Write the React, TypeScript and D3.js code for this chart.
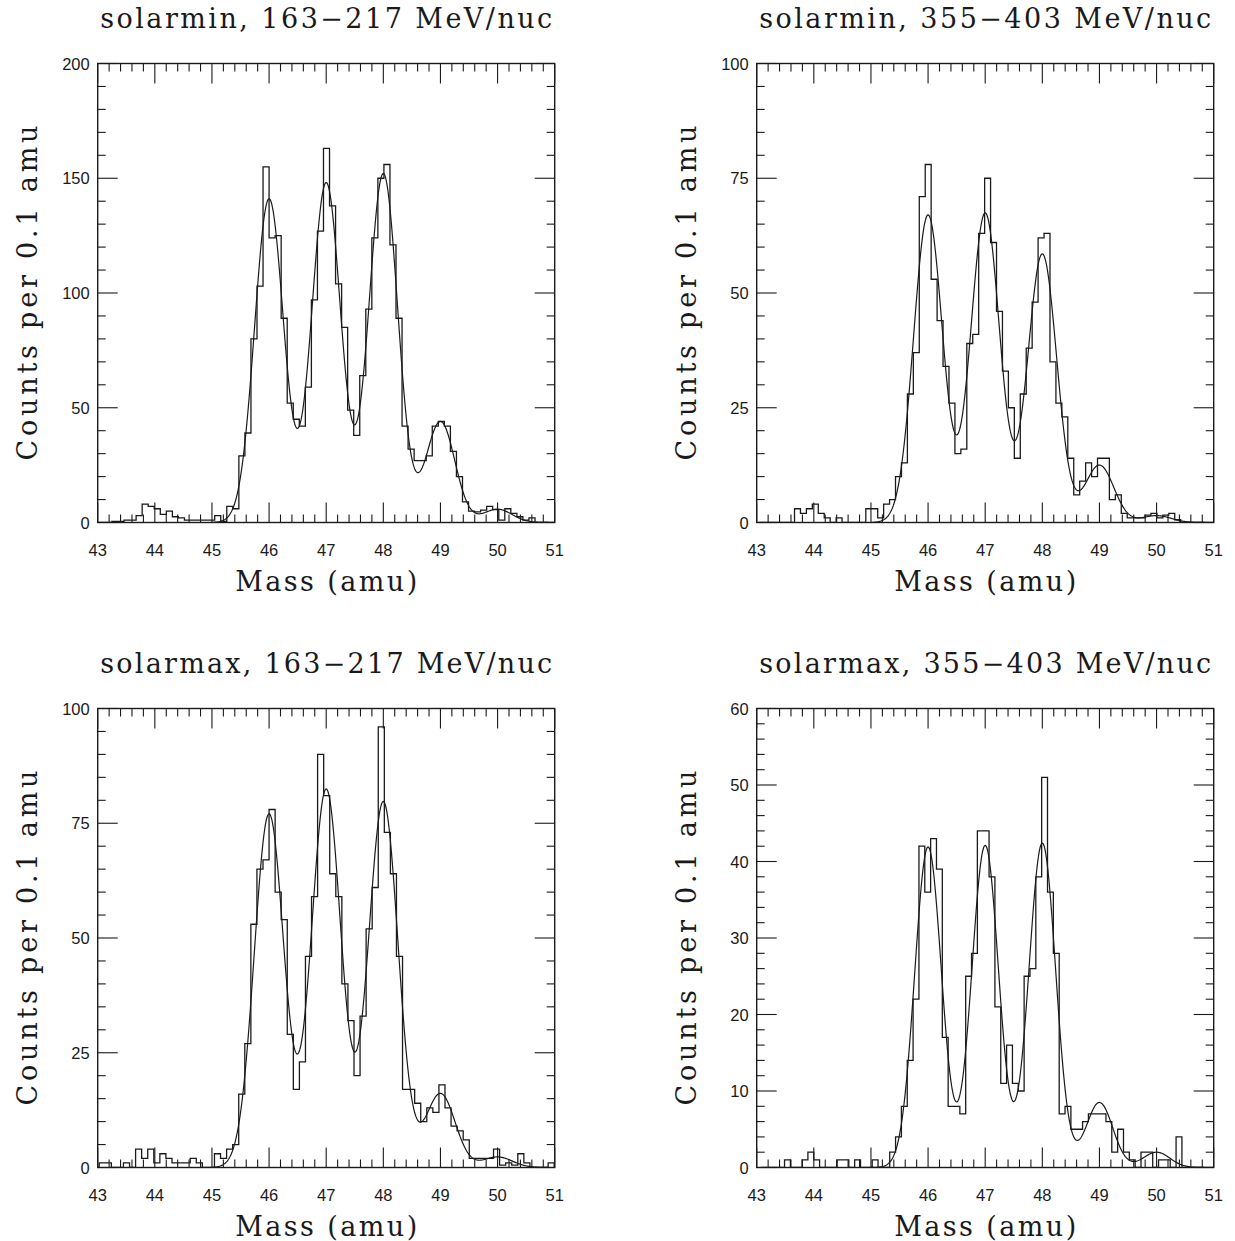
import React from "react";
import * as d3 from "d3";

// ---------- data ----------
const massTicks = [43, 44, 45, 46, 47, 48, 49, 50, 51];
const peakCenters = [46, 47, 48, 49, 50];

const titleTL = "solarmin, 163\u2212217 MeV/nuc";
const titleTR = "solarmin, 355\u2212403 MeV/nuc";
const titleBL = "solarmax, 163\u2212217 MeV/nuc";
const titleBR = "solarmax, 355\u2212403 MeV/nuc";
const xTitle = "Mass (amu)";
const yTitle = "Counts per 0.1 amu";

// solarmin 163-217
const binStartTL = 42.932;
const binWidthTL = 0.1058;
const countsTL = [
  0, 0, 0, 0.5, 0.5, 1, 1, 3, 8, 7,
  6, 3.5, 5, 2.5, 2, 1, 1, 1, 1, 1,
  3, 0.5, 7, 6, 29, 39, 80, 103, 155, 124,
  125, 89, 52, 45, 42, 59, 97, 127, 163, 138,
  104, 85, 49, 38, 64, 93, 124, 150, 156, 121,
  89, 42, 32, 27, 27, 29, 42, 44, 42, 31,
  20, 9, 5, 4.6, 5.4, 7, 5.6, 1, 6, 4,
  2.5, 1, 2, 0, 0, 0, 0,
];
const fitAmpsTL = [141, 148, 152, 44, 5.8];
const fitSigmaTL = 0.253;
const yTicksTL = [0, 50, 100, 150, 200];
const yMinorTL = 10;

// solarmin 355-403
const binStartTR = 43.038;
const binWidthTR = 0.104;
const countsTR = [
  0, 0, 0, 0, 0, 0, 3, 2, 3, 4,
  2, 1, 0, 1, 0, 0, 0, 0, 3, 3,
  1, 4, 5, 10, 13, 28, 37, 71, 78, 53,
  44, 34, 26, 15, 16, 39, 41, 63, 75, 61,
  46, 33, 25, 14, 28, 38, 48, 62, 63, 35,
  26, 23, 14, 6, 9, 13, 10, 14, 14, 5,
  6, 2, 1, 1, 1, 1.6, 2, 1, 1.6, 2,
  0.6, 0, 0, 0, 0, 0, 0,
];
const fitAmpsTR = [67, 67.4, 58.5, 12.5, 1.5];
const fitSigmaTR = 0.253;
const yTicksTR = [0, 25, 50, 75, 100];
const yMinorTR = 5;

// solarmax 163-217
const binStartBL = 42.92;
const binWidthBL = 0.1062;
const countsBL = [
  0, 1, 1, 0, 0, 1, 0, 4, 2, 4,
  1, 3, 2, 1, 1, 1, 2, 1, 0, 0,
  3, 2, 4, 5, 16, 27, 53, 65, 67, 78,
  60, 54, 29, 17, 23, 46, 59, 90, 81, 64,
  59, 40, 32, 20, 33, 52, 61, 96, 73, 64,
  46, 17, 17, 14, 10, 13, 12, 18, 13, 9,
  8, 6, 2, 2, 2, 2, 4, 0.5, 1, 0.5,
  3, 1, 0, 0, 0, 1, 0,
];
const fitAmpsBL = [77, 82.4, 79.7, 16.1, 2.3];
const fitSigmaBL = 0.259;
const yTicksBL = [0, 25, 50, 75, 100];
const yMinorBL = 5;

// solarmax 355-403
const binStartBR = 43.078;
const binWidthBR = 0.1023;
const countsBR = [
  0, 0, 0, 0, 1, 0, 0, 1, 2, 1,
  0, 0, 0, 1, 1, 0, 1, 0, 0, 1,
  0, 0, 2, 4, 8, 14, 22, 42, 36, 43,
  39, 17, 8, 8, 7, 25, 28, 44, 44, 38,
  21, 11, 16, 11, 10, 25, 26, 38, 51, 36,
  28, 7, 8, 5, 5, 6, 7, 7, 7, 6,
  2, 5, 2, 1, 0, 2, 2, 0, 1, 1,
  0, 4, 0, 0, 0, 0, 0, 0,
];
const fitAmpsBR = [41.9, 42.1, 42.4, 8.5, 2.0];
const fitSigmaBR = 0.234;
const yTicksBR = [0, 10, 20, 30, 40, 50, 60];
const yMinorBR = 2;

// ---------- layout ----------
const PW = 457;
const PH = 459;
const INK = "#1a1a1a";
const SERIF = "'DejaVu Serif', 'Liberation Serif', serif";
const SANS = "'Liberation Sans', Arial, sans-serif";

type PanelProps = {
  id: string;
  x0: number;
  y0: number;
  title: string;
  counts: number[];
  binStart: number;
  binWidth: number;
  amps: number[];
  sigma: number;
  yTicks: number[];
  yMinorStep: number;
};

function Panel(p: PanelProps) {
  const { id, x0, y0, title, counts, binStart, binWidth, amps, sigma, yTicks, yMinorStep } = p;
  const yMax = yTicks[yTicks.length - 1];
  const xs = d3.scaleLinear().domain([43, 51]).range([x0, x0 + PW]);
  const ys = d3.scaleLinear().domain([0, yMax]).range([y0 + PH, y0]);

  const pts: [number, number][] = counts.map((c, i) => [binStart + i * binWidth, c]);
  pts.push([binStart + counts.length * binWidth, counts[counts.length - 1]]);
  const histPath =
    d3
      .line<[number, number]>()
      .x((d) => xs(d[0]))
      .y((d) => ys(d[1]))
      .curve(d3.curveStepAfter)(pts) || "";

  const model = (m: number) =>
    peakCenters.reduce(
      (s, c, k) => s + amps[k] * Math.exp(-((m - c) * (m - c)) / (2 * sigma * sigma)),
      0
    );
  const fitX = d3.range(45, 51.0001, 0.01);
  const fitPath =
    d3
      .line<number>()
      .x((m) => xs(m))
      .y((m) => ys(model(m)))(fitX) || "";

  const xMinor = d3.range(43, 51.0001, 0.2).filter((v) => Math.abs(v - Math.round(v)) > 1e-6);
  const yMajorStep = yTicks[1] - yTicks[0];
  const yMinor = d3
    .range(0, yMax + 1e-6, yMinorStep)
    .filter((v) => Math.abs(v / yMajorStep - Math.round(v / yMajorStep)) > 1e-6);

  const MAJ = 20;
  const MIN = 8;
  const bottom = y0 + PH;
  const right = x0 + PW;

  return (
    <g>
      <defs>
        <clipPath id={`clip-${id}`}>
          <rect x={x0} y={y0} width={PW} height={PH} />
        </clipPath>
      </defs>
      {/* ticks */}
      <g stroke={INK} strokeWidth={1.1}>
        {massTicks.map((m) => (
          <g key={`xm${m}`}>
            <line x1={xs(m)} x2={xs(m)} y1={bottom} y2={bottom - MAJ} />
            <line x1={xs(m)} x2={xs(m)} y1={y0} y2={y0 + MAJ} />
          </g>
        ))}
        {xMinor.map((m, i) => (
          <g key={`xn${i}`}>
            <line x1={xs(m)} x2={xs(m)} y1={bottom} y2={bottom - MIN} />
            <line x1={xs(m)} x2={xs(m)} y1={y0} y2={y0 + MIN} />
          </g>
        ))}
        {yTicks.map((v) => (
          <g key={`ym${v}`}>
            <line x1={x0} x2={x0 + MAJ} y1={ys(v)} y2={ys(v)} />
            <line x1={right} x2={right - MAJ} y1={ys(v)} y2={ys(v)} />
          </g>
        ))}
        {yMinor.map((v, i) => (
          <g key={`yn${i}`}>
            <line x1={x0} x2={x0 + MIN} y1={ys(v)} y2={ys(v)} />
            <line x1={right} x2={right - MIN} y1={ys(v)} y2={ys(v)} />
          </g>
        ))}
      </g>
      {/* data */}
      <g clipPath={`url(#clip-${id})`} fill="none" stroke={INK}>
        <path d={histPath} strokeWidth={1.3} />
        <path d={fitPath} strokeWidth={1.2} />
      </g>
      {/* frame */}
      <rect x={x0} y={y0} width={PW} height={PH} fill="none" stroke={INK} strokeWidth={1.4} />
      {/* tick labels */}
      <g fontFamily={SANS} fontSize={16.5} fill={INK}>
        {massTicks.map((m) => (
          <text key={`xl${m}`} x={xs(m)} y={bottom + 33} textAnchor="middle">
            {m}
          </text>
        ))}
        {yTicks.map((v) => (
          <text key={`yl${v}`} x={x0 - 8} y={ys(v)} textAnchor="end" dominantBaseline="central">
            {v}
          </text>
        ))}
      </g>
      {/* titles */}
      <text
        x={x0 + PW / 2}
        y={y0 - 36}
        textAnchor="middle"
        fontFamily={SERIF}
        fontSize={27}
        fill={INK}
        textLength={452}
        lengthAdjust="spacing"
      >
        {title}
      </text>
      <text
        x={x0 + PW / 2}
        y={bottom + 68}
        textAnchor="middle"
        fontFamily={SERIF}
        fontSize={27}
        fill={INK}
        textLength={182}
        lengthAdjust="spacing"
      >
        {xTitle}
      </text>
      <text
        transform={`translate(${x0 - 61},${y0 + PH / 2}) rotate(-90)`}
        textAnchor="middle"
        fontFamily={SERIF}
        fontSize={27}
        fill={INK}
        textLength={335}
        lengthAdjust="spacing"
      >
        {yTitle}
      </text>
    </g>
  );
}

export default function App() {
  const colX = [97.7, 756.7];
  const rowY = [63.5, 708.5];
  return (
    <svg
      width={1235}
      height={1241}
      viewBox="0 0 1235 1241"
      style={{ position: "absolute", left: 0, top: 0, background: "#fff" }}
    >
      <rect x={0} y={0} width={1235} height={1241} fill="#fff" />
      <Panel id="tl" x0={colX[0]} y0={rowY[0]} title={titleTL} counts={countsTL} binStart={binStartTL}
        binWidth={binWidthTL} amps={fitAmpsTL} sigma={fitSigmaTL} yTicks={yTicksTL} yMinorStep={yMinorTL} />
      <Panel id="tr" x0={colX[1]} y0={rowY[0]} title={titleTR} counts={countsTR} binStart={binStartTR}
        binWidth={binWidthTR} amps={fitAmpsTR} sigma={fitSigmaTR} yTicks={yTicksTR} yMinorStep={yMinorTR} />
      <Panel id="bl" x0={colX[0]} y0={rowY[1]} title={titleBL} counts={countsBL} binStart={binStartBL}
        binWidth={binWidthBL} amps={fitAmpsBL} sigma={fitSigmaBL} yTicks={yTicksBL} yMinorStep={yMinorBL} />
      <Panel id="br" x0={colX[1]} y0={rowY[1]} title={titleBR} counts={countsBR} binStart={binStartBR}
        binWidth={binWidthBR} amps={fitAmpsBR} sigma={fitSigmaBR} yTicks={yTicksBR} yMinorStep={yMinorBR} />
    </svg>
  );
}
